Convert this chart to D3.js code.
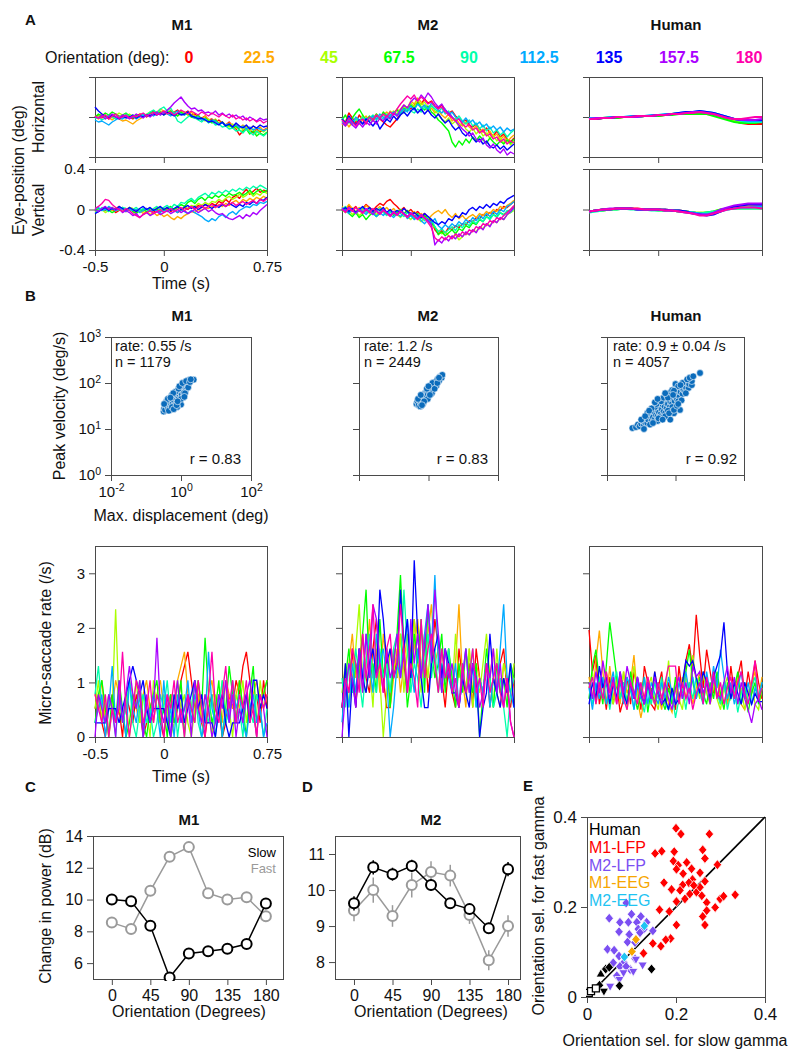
<!DOCTYPE html>
<html><head><meta charset="utf-8">
<script src="https://cdn.jsdelivr.net/npm/d3@7"></script>
<style>body{margin:0;background:#fff}svg{display:block}</style>
</head><body>
<svg id="fig" width="800" height="1064"></svg>
<script>
// ---------------- DATA ----------------
const orientations = [0, 22.5, 45, 67.5, 90, 112.5, 135, 157.5, 180];
const orientationColors = ["#ff0000","#ffaa00","#aaff00","#00ff00","#00ffaa","#00aaff","#0000ff","#aa00ff","#ff00aa"];
const orientationLabels = ["0","22.5","45","67.5","90","112.5","135","157.5","180"];
const subjects = ["M1","M2","Human"];

// time grids (s)
const eyeTimes = d3.range(51).map(i => -0.5 + 0.025 * i);
const humanEyeTimes = d3.range(26).map(i => -0.5 + 0.05 * i);
const rateTimes = eyeTimes;
const timeTicks = [-0.5, 0, 0.75];
const eyeTicks = [-0.4, 0, 0.4];
const rateTicks = [0, 1, 2, 3];

// Eye position traces, units of 0.01 deg, one row per orientation
const m1EyeH = [
[0,2,-1,1,-2,0,3,1,-1,2,0,-2,1,3,2,0,4,2,5,3,6,4,2,5,7,3,4,6,2,3,0,-1,1,-3,-2,-5,-3,-6,-8,-5,-9,-12,-18,-14,-10,-13,-16,-12,-15,-13,-11],
[1,-2,0,2,-1,-3,0,-2,-4,-3,-5,-7,-4,-2,0,2,1,3,5,8,6,4,7,5,3,6,4,2,5,1,0,-2,1,-3,-4,-2,-6,-5,-8,-6,-9,-7,-11,-8,-10,-13,-9,-12,-10,-14,-11],
[-1,1,3,0,2,-1,1,4,2,0,3,1,-1,2,0,3,5,2,4,6,3,5,2,4,1,3,5,2,0,1,-2,-1,-4,-2,-5,-3,-7,-5,-8,-10,-7,-11,-9,-13,-10,-14,-12,-16,-13,-15,-12],
[0,3,1,4,2,5,3,0,2,4,1,-1,2,0,3,1,4,6,3,5,2,4,6,3,1,5,2,4,0,-1,2,-3,-1,-4,-6,-3,-7,-5,-9,-8,-11,-9,-13,-15,-12,-17,-14,-19,-16,-18,-15],
[-2,0,-3,-1,2,0,-2,1,-1,3,0,2,-1,1,3,2,5,7,4,8,10,6,9,3,-4,-6,-3,0,2,-1,-3,-5,-2,-6,-4,-8,-7,-10,-9,-12,-11,-14,-13,-16,-12,-15,-18,-14,-17,-19,-16],
[-3,-5,-4,-6,-8,-5,-3,-1,-2,0,-1,1,-2,0,2,1,3,1,4,2,5,3,1,4,6,3,2,5,1,-1,0,-3,-2,-5,-3,-4,-7,-6,-8,-7,-10,-8,-11,-9,-12,-10,-13,-11,-12,-14,-12],
[10,6,3,1,-1,2,0,-2,1,-1,0,2,-1,1,0,2,1,3,2,4,2,5,3,1,4,2,3,5,1,0,-2,-1,-3,-5,-4,-6,-8,-5,-9,-7,-10,-6,-9,-11,-8,-12,-9,-11,-8,-10,-9],
[0,-1,2,-2,1,3,0,-1,2,1,-2,0,3,1,-1,2,0,3,5,2,4,7,10,14,17,20,15,11,8,9,6,7,4,5,3,6,2,4,1,3,0,2,-1,1,-3,0,-2,-4,-1,-3,-2],
[1,-1,0,2,-2,1,3,-1,0,2,-1,1,0,2,4,1,3,5,2,4,6,3,5,2,4,7,5,3,6,4,2,5,3,1,4,2,0,3,1,-1,2,-2,0,-3,-1,-4,-2,-5,-3,-6,-4]];
const m1EyeV = [
[0,-2,1,-1,2,0,-3,-1,1,-2,0,-1,-3,0,-2,1,-1,-3,0,-2,-1,1,-2,0,-3,-1,2,0,3,1,4,2,5,3,6,4,8,6,10,7,12,14,11,16,20,15,18,21,17,19,18],
[-2,1,-1,2,0,-1,1,3,0,-2,1,-1,-3,-1,-4,-2,-5,-3,-6,-4,-7,-5,-8,-10,-7,-9,-6,-4,-2,-3,0,-1,2,1,3,2,5,3,6,4,7,9,6,10,8,11,9,12,10,13,11],
[1,-1,0,-3,-1,2,0,1,-2,0,2,1,-1,0,-2,1,-1,0,2,-1,1,-2,0,-1,2,0,3,1,4,3,6,4,7,5,8,7,10,8,11,13,10,12,15,12,14,17,13,16,14,18,16],
[-1,1,0,2,-1,-3,-1,0,2,-1,1,-2,-4,-1,0,-2,1,-1,0,2,-1,1,3,0,2,5,3,7,9,6,10,12,9,13,11,14,12,15,13,16,14,15,17,14,16,19,15,18,20,17,19],
[-3,-1,2,0,-2,1,-1,0,2,1,-1,0,2,-1,1,0,-2,1,3,0,2,4,1,5,3,7,6,9,11,8,12,14,16,13,17,15,18,16,19,17,20,18,21,19,22,20,23,21,24,22,20],
[1,2,-1,0,3,1,-1,2,0,-2,1,-1,0,-3,-1,1,-2,0,-1,-3,0,-2,1,-1,-3,0,-2,-4,-1,-3,-5,-7,-10,-12,-9,-11,-7,-5,-8,-4,-2,-5,-1,1,3,2,5,4,7,6,8],
[-4,-2,0,2,-1,1,0,3,1,-1,2,0,-2,1,3,0,2,-1,1,3,0,2,-1,1,3,0,2,4,1,3,0,2,5,3,1,4,2,5,3,6,4,2,5,3,7,5,8,6,10,9,12],
[0,-2,1,3,0,2,-1,1,-3,-1,-3,-6,-4,-8,-5,-3,-6,-4,-2,-5,-3,-1,-4,-2,0,-3,-1,-4,-2,0,-3,-1,1,-2,0,-3,-5,-4,-7,-9,-10,-8,-6,-9,-5,-7,-3,-5,-1,2,5],
[1,3,6,10,9,5,2,0,-2,1,-1,-4,-6,-8,-5,-3,-1,-4,-2,0,-3,-1,1,-2,0,2,-1,1,3,0,2,4,1,3,5,2,4,6,3,5,7,4,6,8,5,7,9,6,10,8,11]];
const m2EyeH = [
[-2,-5,4,-1,-6,2,-3,-7,0,-4,1,-2,-5,-8,-10,-6,-2,3,6,10,8,12,15,13,18,14,16,11,9,12,7,4,6,1,-2,-5,-3,-8,-10,-7,-12,-15,-11,-16,-19,-14,-20,-17,-22,-25,-21],
[-8,-4,-10,-5,-2,-7,-3,1,-4,-1,3,-2,2,5,1,6,3,8,12,9,16,13,19,15,10,6,9,4,7,2,-1,3,-4,-1,-6,-9,-5,-10,-13,-9,-15,-12,-18,-14,-20,-17,-23,-19,-25,-21,-18],
[-5,-9,-3,-7,-1,-5,2,-3,0,-4,2,-1,4,0,6,3,8,5,11,7,14,10,17,12,15,9,12,6,3,-2,-5,-1,-7,-4,-10,-6,-12,-15,-11,-17,-13,-19,-16,-21,-18,-24,-20,-26,-22,-28,-24],
[-3,2,-6,-1,4,8,2,-4,1,-3,3,-2,5,1,-1,4,7,3,9,6,12,8,14,10,7,11,5,2,-3,-6,-10,-14,-25,-30,-24,-28,-22,-26,-20,-24,-19,-23,-26,-21,-25,-28,-24,-27,-23,-26,-22],
[-1,-6,-3,-8,-2,-5,0,-4,-1,2,-3,1,-2,3,0,5,2,7,4,9,6,4,8,5,10,7,11,8,5,9,3,6,0,-3,1,-4,-7,-3,-9,-6,-12,-8,-14,-10,-16,-13,-18,-15,-20,-16,-13],
[-4,-8,-2,-6,0,-3,-7,-1,-4,1,-2,3,0,-3,2,5,1,4,8,5,11,7,13,9,12,8,14,10,7,4,8,2,5,0,-2,-5,-1,-6,-3,-8,-5,-10,-7,-12,-9,-13,-10,-15,-11,-14,-12],
[-2,-6,1,-4,-8,-3,-7,-2,-5,-9,-4,-12,-7,-2,-5,1,-3,2,5,1,6,9,4,8,3,7,2,-1,3,-2,-6,-3,-9,-13,-10,-16,-19,-15,-21,-25,-22,-27,-24,-29,-31,-28,-32,-29,-33,-30,-27],
[-6,-9,-4,-8,-11,-6,-10,-5,-8,-3,-7,-1,-4,1,-2,4,1,7,12,9,15,19,16,22,18,24,20,14,10,13,7,4,0,-4,-8,-12,-15,-19,-16,-22,-25,-21,-28,-31,-27,-33,-36,-32,-38,-35,-37],
[-3,-7,-1,-5,-9,-4,-2,-6,0,-3,2,-1,3,0,5,2,8,13,17,21,18,22,16,20,17,13,15,11,8,10,5,2,-1,-4,-2,-7,-10,-7,-13,-11,-16,-13,-19,-17,-22,-20,-25,-22,-27,-24,-26]];
const m2EyeV = [
[2,-1,4,0,3,-2,1,5,2,-1,3,6,4,8,10,6,3,-1,2,-3,0,-4,-2,-6,-4,-8,-12,-20,-24,-21,-23,-18,-20,-16,-18,-14,-15,-11,-12,-8,-9,-5,-6,-3,-4,0,-1,3,2,5,8],
[3,0,5,1,-2,2,-1,4,1,-3,0,3,-1,2,-2,1,-3,0,-4,-1,-5,-2,-6,-4,-7,-10,-6,-3,-1,-4,0,-5,-8,-4,-9,-6,-10,-7,-5,-8,-4,-6,-2,-4,0,-2,3,1,4,6,9],
[1,-3,-1,-5,-2,-6,-3,0,-4,-1,-5,-2,0,-3,-6,-2,-5,-8,-4,-7,-10,-6,-9,-12,-8,-11,-15,-18,-21,-24,-22,-26,-28,-25,-30,-27,-23,-25,-20,-22,-17,-19,-14,-16,-11,-13,-8,-10,-5,-3,-1],
[-2,1,-4,-7,-3,-8,-5,-10,-6,-3,-7,-4,-1,-5,-2,-6,-3,0,-4,-1,-5,-8,-4,-9,-6,-10,-13,-17,-25,-22,-26,-23,-20,-24,-19,-21,-16,-18,-13,-15,-10,-12,-7,-9,-5,-7,-3,-5,-2,0,3],
[0,3,-2,1,-4,-1,2,-3,0,-5,-2,1,-3,-6,-2,-5,-1,-4,-7,-3,-6,-9,-5,-8,-11,-7,-10,-17,-22,-19,-23,-20,-17,-21,-15,-18,-13,-16,-11,-14,-9,-12,-7,-10,-5,-8,-3,-6,-1,-3,1],
[2,-1,-4,0,-3,1,-2,-5,-1,-4,-7,-3,-6,-2,-5,-8,-4,-7,-3,-9,-6,-10,-7,-11,-14,-10,-13,-9,-16,-19,-15,-18,-14,-17,-12,-15,-10,-13,-8,-11,-6,-9,-4,-7,-2,-5,0,-2,3,5,8],
[-1,2,-2,1,-3,0,3,-1,2,-2,1,-1,2,-3,0,-4,-1,-3,1,-2,-5,-3,-6,-8,-4,-7,-10,-13,-15,-12,-14,-9,-11,-6,-8,-3,-5,0,2,-1,3,1,5,2,6,4,8,6,10,12,14],
[1,-2,2,-1,-4,0,-3,1,-2,-5,-1,-4,0,-3,-6,-2,-5,-1,-4,-7,-3,-6,-9,-5,-8,-11,-15,-35,-30,-33,-28,-31,-26,-29,-24,-27,-22,-25,-20,-23,-17,-20,-14,-17,-11,-13,-8,-10,-5,-2,2],
[0,-3,1,-2,2,-1,-4,0,-3,1,-2,-5,-1,-4,-7,-3,-6,-2,-5,-8,-4,-7,-10,-6,-9,-13,-18,-28,-31,-27,-30,-26,-29,-24,-27,-22,-25,-20,-22,-17,-19,-14,-16,-11,-13,-8,-10,-6,-3,0,4]];
const humanEyeH = [
[-2,-2,-1,-1,-1,0,0,0,1,1,1,2,3,3,4,4,4,4,3,1,-2,-4,-6,-7,-7,-7],
[-2,-1,-1,-1,0,0,0,1,1,1,2,2,3,4,4,5,4,4,3,1,-1,-3,-4,-5,-5,-5],
[-1,-1,-1,0,0,0,0,1,1,1,2,2,3,3,4,4,4,3,2,0,-2,-4,-5,-5,-5,-4],
[-2,-2,-1,-1,-1,0,0,0,1,1,1,2,2,3,3,3,3,3,1,-1,-3,-5,-6,-6,-6,-5],
[-2,-1,-1,-1,0,0,0,0,1,1,2,2,3,4,4,5,5,5,4,2,0,-2,-4,-5,-5,-5],
[-1,-1,-1,0,0,0,1,1,1,2,2,3,3,4,5,5,6,5,4,2,0,-2,-3,-4,-4,-4],
[-2,-2,-1,-1,0,0,0,1,1,1,2,2,3,4,5,5,6,5,4,2,0,-2,-3,-3,-3,-3],
[-2,-1,-1,-1,0,0,0,0,1,1,2,2,3,3,4,5,5,4,3,1,-1,-2,-3,-3,-3,-2],
[-2,-2,-1,-1,0,0,0,1,1,1,2,2,3,3,4,4,5,4,3,1,-1,-2,-2,-1,0,0]];
const humanEyeV = [
[-2,-1,0,0,1,1,1,0,0,0,0,-1,-1,-1,-2,-3,-4,-4,-3,-1,1,2,3,3,3,3],
[-2,-1,-1,0,1,1,1,1,0,0,0,0,-1,-1,-2,-3,-4,-4,-3,-1,1,2,2,3,3,2],
[-2,-1,0,0,1,1,1,0,0,0,0,-1,-1,-2,-2,-3,-3,-3,-2,0,1,2,2,2,2,2],
[-2,-1,-1,0,0,1,1,0,0,0,-1,-1,-1,-2,-2,-3,-4,-3,-2,0,1,1,1,1,1,1],
[-3,-2,-1,0,0,1,0,0,0,-1,-1,-1,-1,-2,-3,-3,-4,-3,-2,-1,0,1,1,1,1,1],
[-2,-1,0,0,1,1,1,0,0,0,0,-1,-1,-1,-2,-3,-4,-5,-4,-2,0,1,2,2,3,3],
[-2,-1,0,0,1,1,1,0,0,0,0,0,-1,-1,-2,-4,-5,-6,-5,-2,1,3,4,5,5,5],
[-2,-1,0,1,1,1,1,0,0,0,0,-1,-1,-2,-3,-4,-5,-5,-3,0,2,4,5,6,6,6],
[-2,-1,0,0,1,1,1,1,0,0,0,-1,-1,-2,-3,-4,-6,-6,-4,-2,0,1,2,2,2,1]];

// Micro-saccade counts per bin (one row per orientation); rate = count * unit (/s)
const m1RateUnit = 0.26;
const m1RateCounts = [
[2,3,1,0,2,3,1,2,0,3,2,1,3,2,0,1,2,3,2,1,0,2,3,1,2,4,5,6,4,2,3,1,0,2,3,1,2,0,1,3,2,4,3,5,6,4,2,3,1,4,2],
[3,2,4,1,3,2,4,3,1,2,4,3,2,1,3,4,2,1,3,4,2,1,3,2,4,5,6,3,2,4,3,1,2,3,4,2,3,1,4,3,2,3,4,2,3,1,3,4,2,3,4],
[2,4,1,3,0,2,9,2,1,3,0,2,4,1,3,2,0,4,2,1,3,2,0,1,4,2,3,1,0,2,4,1,3,2,0,3,2,4,1,2,0,3,2,4,1,3,2,0,4,2,3],
[1,3,4,2,0,3,1,4,2,0,1,3,2,4,1,0,2,3,4,1,2,0,3,1,2,4,0,3,2,1,4,2,7,3,1,2,4,0,2,5,3,1,4,2,0,3,5,1,2,3,4],
[3,5,2,1,3,2,0,3,1,2,4,1,0,2,3,1,2,0,1,3,2,4,1,3,0,2,1,3,2,4,1,0,2,1,3,0,2,4,1,2,3,1,2,0,3,2,1,3,2,0,2],
[1,2,3,0,2,5,1,3,2,0,4,2,1,3,0,2,1,3,2,0,4,1,2,0,3,1,2,4,1,3,2,0,1,6,2,1,3,0,2,1,4,2,3,1,0,2,3,1,2,0,1],
[1,1,1,1,2,2,2,1,2,3,4,5,4,3,4,2,1,2,2,2,2,1,0,3,2,3,1,2,3,4,2,3,1,1,1,0,2,3,1,0,1,1,1,2,3,1,4,4,2,3,2],
[0,3,2,1,3,2,0,4,1,3,5,3,2,4,0,3,1,2,7,2,1,3,0,2,4,1,2,3,0,4,2,1,3,2,0,1,3,2,4,1,3,0,2,1,3,4,2,0,3,2,0],
[3,2,1,3,0,2,1,2,6,2,0,2,4,3,1,2,4,1,3,2,0,3,2,4,1,2,0,3,2,1,4,2,0,3,6,2,1,3,5,2,4,1,3,2,4,1,2,0,3,2,3]];
const m2RateUnit = 0.27;
const m2RateCounts = [
[2,4,3,6,2,5,7,4,3,6,8,5,4,2,2,6,4,7,5,3,6,8,5,4,7,3,5,8,6,4,2,5,3,2,6,4,3,5,2,6,4,3,5,2,4,3,5,6,3,2,4],
[2,3,5,7,4,6,3,5,8,4,6,3,7,5,2,4,6,3,5,7,4,6,8,5,4,7,9,5,6,3,4,6,3,5,9,4,2,6,3,5,4,3,5,4,6,3,2,5,4,3,4],
[3,5,2,4,6,9,4,3,5,2,7,4,0,3,6,5,4,7,3,6,4,8,5,3,6,4,7,5,3,6,4,5,3,7,4,5,3,6,2,4,3,5,7,4,2,6,3,5,4,3,5],
[2,4,6,3,5,4,7,10,4,5,3,8,4,6,2,5,7,11,6,2,4,7,5,8,3,9,6,4,5,7,3,6,4,2,5,3,6,4,3,5,0,3,6,4,2,5,3,4,2,5,4],
[4,2,5,3,6,4,2,5,7,4,3,6,4,5,3,6,7,4,10,6,3,5,4,2,5,7,4,6,3,5,4,6,3,4,2,5,3,4,6,2,4,3,5,4,2,3,4,2,0,3,4],
[1,4,2,5,3,6,4,7,5,3,7,5,6,4,0,2,5,4,6,8,5,3,6,4,7,9,6,11,5,3,6,4,3,5,2,4,6,3,5,2,4,3,5,2,4,3,6,9,4,3,2],
[2,5,0,4,2,6,4,3,5,6,4,10,8,5,6,4,5,10,6,8,4,12,7,4,2,2,5,6,7,4,6,5,3,3,2,4,3,2,5,4,0,2,3,7,4,3,2,4,3,5,2],
[0,3,5,4,2,6,3,7,4,9,8,5,3,6,4,5,7,4,6,3,8,5,7,4,6,9,5,10,7,3,6,4,5,3,2,4,6,3,5,4,2,3,5,4,6,3,5,2,4,1,0],
[2,4,3,6,5,3,7,4,6,9,4,5,3,6,7,4,5,9,6,3,5,4,2,8,4,6,7,5,3,6,4,5,3,4,2,5,3,4,6,3,4,2,5,3,4,5,3,2,4,1,0]];
const humanRates = [
[1.96,1.2,1.5,0.6,1.0,0.5,1.1,0.6,1.0,0.45,0.7,1.1,0.6,1.2,0.9,0.5,1.3,1.0,0.6,0.5,0.9,1.2,0.6,1.0,0.7,0.5,1.3,0.8,1.4,1.7,1.2,2.24,1.5,0.9,1.6,1.2,0.8,1.1,0.6,1.0,0.6,1.3,0.8,1.1,1.4,0.7,1.2,0.8,1.4,1.0,0.7],
[1.1,0.7,1.4,1.95,1.2,0.6,1.3,0.7,1.1,0.6,1.2,0.8,1.0,1.5,0.7,0.35,0.7,1.1,0.6,1.2,0.8,0.5,1.0,0.6,0.45,0.9,0.6,1.1,0.7,1.0,0.6,0.9,1.2,0.7,1.0,0.6,0.9,1.1,0.7,1.0,0.6,0.9,0.7,1.1,0.6,0.5,0.8,1.0,1.2,0.7,1.1],
[0.9,1.2,0.6,1.1,0.7,1.2,0.9,0.6,1.0,0.7,1.2,0.5,0.9,1.3,0.7,1.0,0.6,0.9,1.1,0.7,0.5,1.0,0.8,1.4,0.6,1.0,0.7,0.5,1.1,0.8,1.5,1.0,0.7,1.2,0.8,0.6,1.0,0.7,0.5,0.9,1.1,0.7,1.0,0.6,0.9,0.5,0.8,1.0,0.6,0.5,0.9],
[0.7,1.3,1.6,1.0,0.6,1.3,2.1,1.6,1.1,0.7,1.0,0.6,1.2,0.8,0.5,0.8,1.1,0.45,0.9,0.6,1.0,0.7,0.5,0.9,0.6,1.1,0.7,1.0,1.2,1.6,1.0,0.7,1.1,0.8,0.6,1.0,0.7,1.2,0.8,0.5,1.0,0.7,0.9,1.2,0.6,0.9,0.45,0.8,1.0,0.6,0.9],
[1.0,0.6,0.9,1.1,0.7,1.0,0.5,0.9,1.2,0.7,1.0,0.6,0.9,0.5,1.0,0.7,0.45,0.9,0.6,1.0,0.7,1.1,0.6,0.5,0.8,0.35,0.7,0.9,0.5,1.0,0.7,1.1,0.8,0.6,1.0,0.7,1.2,0.8,0.6,1.0,0.5,0.8,0.9,0.45,0.8,1.0,0.6,0.9,1.1,0.7,1.0],
[0.9,0.5,1.0,0.7,1.1,0.6,0.9,1.2,0.7,1.0,0.6,1.1,0.9,0.5,1.0,0.7,1.1,0.6,1.0,0.8,0.6,1.0,0.7,1.1,0.8,0.6,1.0,0.7,1.2,0.8,1.1,0.7,1.0,0.6,1.2,0.8,1.3,0.9,1.6,1.1,0.7,1.0,0.6,0.9,1.2,0.7,1.0,0.6,0.9,0.7,1.0],
[0.6,1.0,0.7,1.3,0.9,1.1,0.6,1.0,0.7,1.2,0.8,0.6,1.0,0.7,1.1,0.8,0.6,1.0,0.7,1.2,0.8,0.6,0.7,0.5,0.9,0.6,0.7,1.0,1.4,1.3,1.4,1.1,0.8,1.2,1.0,0.7,1.1,1.3,1.5,2.1,1.2,0.7,1.0,0.8,0.6,1.0,0.8,0.6,0.8,0.65,0.65],
[1.0,0.7,1.2,0.8,1.4,1.0,0.7,1.1,0.6,1.2,0.8,1.3,1.0,0.7,1.1,0.8,0.6,1.0,0.7,1.1,0.8,0.6,1.0,0.7,0.5,0.9,1.1,0.7,1.0,0.6,1.3,1.1,1.2,0.8,1.0,0.6,1.1,0.8,0.7,1.0,1.3,0.8,1.1,0.6,1.0,0.7,0.5,0.26,0.6,0.7,0.5],
[0.9,1.1,0.6,1.0,0.7,1.2,0.8,1.0,0.6,1.1,0.7,0.5,1.0,0.8,0.6,1.0,0.7,1.1,0.8,0.6,1.0,0.7,1.0,1.3,1.3,1.3,0.6,1.0,0.7,0.9,0.5,0.8,1.0,0.6,1.1,0.8,1.2,0.7,1.0,0.6,0.9,1.1,0.7,1.0,1.2,0.8,0.6,1.0,1.4,0.7,0.9]];

// Main sequence: [max displacement (deg), peak velocity (deg/s)]
const m1Saccades = [[0.32,24],[0.33,28],[0.36,31],[0.35,26],[0.40,33],[0.42,29],[0.45,36],[0.48,40],[0.50,33],[0.47,28],[0.55,44],[0.58,38],[0.60,50],[0.63,42],[0.66,55],[0.70,47],[0.72,36],[0.75,60],[0.80,52],[0.82,66],[0.85,45],[0.88,58],[0.92,70],[0.95,62],[1.0,75],[1.05,55],[1.1,82],[1.15,70],[1.2,90],[1.25,78],[1.3,95],[1.4,85],[1.45,105],[1.5,92],[1.6,115],[1.7,100],[1.35,68],[1.2,62],[0.9,40],[0.65,32],[0.52,28],[2.3,118],[1.0,34],[0.78,30],[1.15,48],[0.38,40],[0.42,45],[0.45,25],[0.55,30],[0.55,55],[0.62,27],[0.7,65],[0.75,33],[0.85,75],[0.9,85],[1.0,45],[1.1,100],[1.3,60],[1.4,110],[1.6,80],[0.6,60],[0.5,48],[0.33,35],[0.8,40],[1.25,50],[1.8,105],[1.9,120]];
const m2Saccades = [[0.45,35],[0.48,40],[0.52,33],[0.55,44],[0.6,38],[0.62,48],[0.68,42],[0.72,55],[0.78,47],[0.8,60],[0.85,52],[0.9,66],[0.95,58],[1.0,72],[1.05,63],[1.1,80],[1.15,70],[1.2,88],[1.3,78],[1.35,95],[1.45,85],[1.5,105],[1.6,98],[1.8,120],[2.2,140],[2.4,130],[2.0,110],[0.7,36],[0.58,31],[1.25,60],[0.95,45],[1.7,88],[2.5,150],[0.5,45],[0.6,55],[0.75,40],[0.9,75],[1.1,55],[1.3,100],[1.5,75],[0.65,33],[1.0,85],[1.8,100],[2.0,130]];
const humanSaccades = [[0.055,10.5],[0.07,11],[0.08,12.5],[0.09,11.5],[0.1,13],[0.11,15],[0.12,12],[0.13,14],[0.14,17],[0.15,13.5],[0.16,16],[0.18,19],[0.2,15],[0.2,21],[0.22,18],[0.24,24],[0.25,16.5],[0.27,20],[0.3,26],[0.3,19],[0.33,23],[0.35,30],[0.37,21],[0.4,27],[0.42,34],[0.45,24],[0.48,31],[0.5,38],[0.55,28],[0.55,42],[0.6,35],[0.65,46],[0.68,30],[0.7,40],[0.75,52],[0.8,36],[0.85,45],[0.9,58],[0.95,40],[1.0,50],[1.05,65],[1.1,45],[1.2,58],[1.25,72],[1.3,50],[1.4,64],[1.5,80],[1.6,58],[1.7,72],[1.8,90],[1.9,66],[2.0,82],[2.2,100],[2.4,78],[2.5,95],[2.7,115],[3.0,90],[3.0,110],[1.35,26],[0.7,16],[0.9,22],[0.15,22],[0.25,30],[0.4,45],[0.6,55],[1.0,80],[5.2,165],[0.12,10],[0.18,12.5],[0.3,15],[0.5,22],[0.8,30],[1.2,40],[0.35,18],[0.6,25],[0.1,16],[0.13,19],[0.2,28],[0.22,13.5],[0.28,35],[0.32,17],[0.38,40],[0.45,48],[0.5,19],[0.55,55],[0.65,22],[0.7,62],[0.8,70],[0.9,26],[1.0,95],[1.1,32],[1.2,85],[1.5,42],[1.6,100],[2.0,60],[2.2,120],[0.42,16],[0.6,48],[0.9,68],[1.4,90],[0.25,38],[0.17,25],[0.85,55],[1.2,35],[2.6,130],[3.3,140],[0.3,45],[0.5,60]];
const saccadeStats = [
  {rate:"rate: 0.55 /s", n:"n = 1179", r:"r = 0.83"},
  {rate:"rate: 1.2 /s", n:"n = 2449", r:"r = 0.83"},
  {rate:"rate: 0.9 \u00b1 0.04 /s", n:"n = 4057", r:"r = 0.92"}];
const logXTicks = [0.01, 1, 100];
const logYTicks = [1, 10, 100, 1000];

// Panel C & D: change in power (dB)
const powerOrientations = [0, 22.5, 45, 67.5, 90, 112.5, 135, 157.5, 180];
const orientationTicks = [0, 45, 90, 135, 180];
const m1Slow = [10.0, 9.9, 8.35, 5.1, 6.6, 6.75, 6.9, 7.2, 9.75];
const m1Fast = [8.55, 8.15, 10.55, 12.7, 13.3, 10.4, 10.0, 10.15, 8.95];
const m1PowerTicks = [6, 8, 10, 12, 14];
const m2Slow = [9.63, 10.63, 10.44, 10.67, 10.14, 9.63, 9.47, 8.94, 10.58];
const m2SlowErr = [0.2, 0.2, 0.18, 0.17, 0.15, 0.15, 0.15, 0.15, 0.2];
const m2Fast = [9.43, 10.0, 9.28, 10.14, 10.5, 10.4, 9.31, 8.05, 9.0];
const m2FastErr = [0.3, 0.35, 0.3, 0.35, 0.3, 0.3, 0.25, 0.28, 0.3];
const m2PowerTicks = [8, 9, 10, 11];

// Panel E: orientation selectivity [slow gamma, fast gamma]
const m1Lfp = [[0.200,0.375],[0.211,0.362],[0.275,0.362],[0.153,0.319],[0.168,0.324],[0.196,0.323],[0.260,0.327],[0.265,0.308],[0.194,0.302],[0.205,0.293],[0.224,0.299],[0.235,0.285],[0.293,0.294],[0.201,0.284],[0.216,0.274],[0.254,0.276],[0.237,0.261],[0.229,0.254],[0.215,0.249],[0.265,0.257],[0.173,0.254],[0.190,0.239],[0.209,0.237],[0.231,0.229],[0.246,0.233],[0.254,0.244],[0.240,0.248],[0.258,0.225],[0.269,0.210],[0.299,0.218],[0.333,0.227],[0.307,0.224],[0.288,0.199],[0.269,0.192],[0.260,0.179],[0.265,0.160],[0.201,0.212],[0.185,0.190],[0.163,0.194],[0.201,0.160],[0.188,0.130],[0.177,0.127],[0.166,0.113],[0.148,0.119],[0.127,0.097],[0.220,0.218]];
const m2LfpDiamonds = [[0.088,0.209],[0.050,0.175],[0.100,0.184],[0.121,0.179],[0.074,0.166],[0.093,0.166],[0.112,0.166],[0.134,0.166],[0.072,0.145],[0.095,0.139],[0.115,0.151],[0.128,0.151],[0.148,0.147],[0.119,0.143],[0.091,0.122],[0.108,0.121],[0.046,0.106],[0.061,0.104],[0.072,0.091],[0.083,0.077],[0.108,0.085],[0.059,0.076],[0.074,0.068],[0.097,0.061],[0.067,0.047],[0.088,0.068]];
const m2LfpTriangles = [[0.104,0.056],[0.125,0.070],[0.052,0.023],[0.073,0.038],[0.082,0.053],[0.110,0.083]];
const m1Eeg = [[0.110,0.128],[0.101,0.101]];
const m2Eeg = [[0.129,0.158],[0.084,0.089]];
const humanDiamonds = [[0.042,0.062],[0.050,0.066],[0.073,0.025],[0.145,0.062],[0.028,0.026]];
const humanTrianglesUp = [[0.031,0.052]];
const humanTrianglesDown = [[0.038,0.012]];
const humanSquares = [[0.004,0.009],[0.009,0.013],[0.020,0.019]];
const selTicks = [0, 0.2, 0.4];
const selLegend = [["Human","#000000"],["M1-LFP","#ff0000"],["M2-LFP","#7b4ff2"],["M1-EEG","#f7a600"],["M2-EEG","#1fc3f2"]];

// ---------------- DRAWING ----------------
const FONT = '"Liberation Sans", Arial, Helvetica, sans-serif';
const AXC = "#4a4a4a";
const TXT = "#111";
const svg = d3.select("#fig").attr("font-family", FONT);

function label(x, y, str, o = {}) {
  const t = svg.append("text").attr("x", x).attr("y", y).text(str)
    .attr("font-size", o.size || 16).attr("fill", o.fill || TXT)
    .attr("font-weight", o.bold ? "bold" : "normal")
    .attr("text-anchor", o.anchor || "start");
  if (o.rotate) t.attr("transform", `rotate(-90,${x},${y})`);
  return t;
}

let clipN = 0;
function makeAxes(x, y, w, h) {
  const g = svg.append("g").attr("transform", `translate(${x},${y})`);
  const id = "clip" + (clipN++);
  g.append("clipPath").attr("id", id).append("rect").attr("x", -1).attr("y", -1).attr("width", w + 3).attr("height", h + 3);
  g.append("rect").attr("x", 0.5).attr("y", 0.5).attr("width", w).attr("height", h)
    .attr("fill", "none").attr("stroke", AXC).attr("stroke-width", 1);
  const plot = g.append("g").attr("clip-path", `url(#${id})`);
  return { g, plot, w, h };
}

function addAxis(ax, side, scale, ticks, showLabels, fs, fmt) {
  const a = (side === "bottom" ? d3.axisBottom(scale) : d3.axisLeft(scale))
    .tickValues(ticks).tickSizeInner(6).tickSizeOuter(0)
    .tickPadding(side === "bottom" ? 5 : 4)
    .tickFormat(showLabels ? (fmt || (d => String(d))) : () => "");
  const gg = ax.g.append("g");
  if (side === "bottom") gg.attr("transform", `translate(0,${ax.h})`);
  gg.call(a);
  gg.select(".domain").remove();
  gg.attr("font-family", FONT).attr("font-size", fs || 15);
  gg.selectAll(".tick line").attr("stroke", AXC);
  gg.selectAll(".tick text").attr("fill", TXT);
  return gg;
}

function powerLabels(gg) {
  gg.selectAll(".tick text").each(function (d) {
    const t = d3.select(this);
    t.text("10");
    t.append("tspan").attr("dy", "-0.55em").attr("font-size", "0.7em").text(Math.round(Math.log10(d)));
  });
}

// ---- Panel A ----
label(25, 25, "A", { bold: true, size: 15 });
const colA = [{ x: 95, w: 172 }, { x: 342, w: 172 }, { x: 589, w: 173 }];
const titleX = [182, 428, 676];
subjects.forEach((s, i) => label(titleX[i], 30, s, { bold: true, anchor: "middle", size: 15 }));
label(45, 63, "Orientation (deg):", { size: 16 });
orientationLabels.forEach((s, i) => label(189 + i * 70, 63, s, { size: 16, bold: true, anchor: "middle", fill: orientationColors[i] }));

const eyeSets = [
  { H: m1EyeH, V: m1EyeV, t: eyeTimes, sw: 1.4 },
  { H: m2EyeH, V: m2EyeV, t: eyeTimes, sw: 1.4 },
  { H: humanEyeH, V: humanEyeV, t: humanEyeTimes, sw: 1.9 }];
const eyeRows = [{ key: "H", y: 77, h: 80 }, { key: "V", y: 169, h: 81 }];

eyeSets.forEach((set, ci) => {
  eyeRows.forEach((row, ri) => {
    const ax = makeAxes(colA[ci].x, row.y, colA[ci].w, row.h);
    const xs = d3.scaleLinear([-0.5, 0.75], [0, ax.w]);
    const ys = d3.scaleLinear([-0.4, 0.4], [ax.h, 0]);
    const line = d3.line().x((d, i) => xs(set.t[i])).y(d => ys(d / 100)).defined((d, i) => i < set.t.length);
    set[row.key].forEach((tr, k) => {
      ax.plot.append("path").attr("d", line(tr)).attr("fill", "none")
        .attr("stroke", orientationColors[k]).attr("stroke-width", set.sw).attr("stroke-linejoin", "round");
    });
    const lab = ci === 0 && ri === 1;
    addAxis(ax, "bottom", xs, timeTicks, lab);
    addAxis(ax, "left", ys, eyeTicks, lab);
  });
});
label(44, 117, "Horizontal", { rotate: true, anchor: "middle" });
label(44, 210, "Vertical", { rotate: true, anchor: "middle" });
label(24, 170, "Eye-position (deg)", { rotate: true, anchor: "middle" });
label(181, 289, "Time (s)", { anchor: "middle" });

// ---- Panel B: main sequence ----
label(25, 301, "B", { bold: true, size: 15 });
subjects.forEach((s, i) => label(titleX[i], 321, s, { bold: true, anchor: "middle", size: 15 }));
const colB = [{ x: 111, w: 140, pad: 4, rpad: 10 }, { x: 359, w: 139, pad: 5, rpad: 10 }, { x: 607, w: 137, pad: 6, rpad: 7 }];
const saccadeSets = [m1Saccades, m2Saccades, humanSaccades];
colB.forEach((c, ci) => {
  const ax = makeAxes(c.x, 337, c.w, 138);
  const xs = d3.scaleLog([0.01, 100], [0, ax.w]);
  const ys = d3.scaleLog([1, 1000], [ax.h, 0]);
  ax.plot.selectAll("circle").data(saccadeSets[ci]).join("circle")
    .attr("cx", d => xs(d[0])).attr("cy", d => ys(d[1])).attr("r", 3.4)
    .attr("fill", "#0b6cbc").attr("stroke", "#ffffff").attr("stroke-width", 0.6);
  const bx = addAxis(ax, "bottom", xs, logXTicks, ci === 0);
  const by = addAxis(ax, "left", ys, logYTicks, ci === 0);
  if (ci === 0) { powerLabels(bx); powerLabels(by); }
  const st = saccadeStats[ci];
  ax.g.append("text").attr("x", c.pad).attr("y", 14).text(st.rate).attr("font-size", 14.5).attr("fill", TXT);
  ax.g.append("text").attr("x", c.pad).attr("y", 30).text(st.n).attr("font-size", 14.5).attr("fill", TXT);
  ax.g.append("text").attr("x", c.w - c.rpad).attr("y", 127).text(st.r).attr("font-size", 15).attr("fill", TXT).attr("text-anchor", "end");
});
label(65, 406, "Peak velocity (deg/s)", { rotate: true, anchor: "middle" });
label(181, 521, "Max. displacement (deg)", { anchor: "middle" });

// ---- Panel B: micro-saccade rate ----
const rateSets = [
  m1RateCounts.map(r => r.map(c => c * m1RateUnit)),
  m2RateCounts.map(r => r.map(c => c * m2RateUnit)),
  humanRates];
colA.forEach((c, ci) => {
  const ax = makeAxes(c.x, 546, c.w, 191);
  const xs = d3.scaleLinear([-0.5, 0.75], [0, ax.w]);
  const ys = d3.scaleLinear([0, 3.5], [ax.h, 0]);
  const line = d3.line().x((d, i) => xs(rateTimes[i])).y(d => ys(d)).defined((d, i) => i < rateTimes.length);
  rateSets[ci].forEach((tr, k) => {
    ax.plot.append("path").attr("d", line(tr)).attr("fill", "none")
      .attr("stroke", orientationColors[k]).attr("stroke-width", 1.3).attr("stroke-linejoin", "miter");
  });
  addAxis(ax, "bottom", xs, timeTicks, ci === 0);
  addAxis(ax, "left", ys, rateTicks, ci === 0);
});
label(51, 643, "Micro-saccade rate (/s)", { rotate: true, anchor: "middle" });
label(181, 782, "Time (s)", { anchor: "middle" });

// ---- Panels C & D ----
function powerPanel(x, w, xDom, yDom, yTicks, slow, fast, slowErr, fastErr) {
  const ax = makeAxes(x, 836, w, 143);
  const xs = d3.scaleLinear(xDom, [0, ax.w]);
  const ys = d3.scaleLinear(yDom, [ax.h, 0]);
  const line = d3.line().x((d, i) => xs(powerOrientations[i])).y(d => ys(d));
  [[fast, fastErr, "#9a9a9a"], [slow, slowErr, "#000000"]].forEach(([vals, err, col]) => {
    if (err) {
      ax.plot.selectAll(null).data(vals).join("line")
        .attr("x1", (d, i) => xs(powerOrientations[i])).attr("x2", (d, i) => xs(powerOrientations[i]))
        .attr("y1", (d, i) => ys(d - err[i])).attr("y2", (d, i) => ys(d + err[i]))
        .attr("stroke", col).attr("stroke-width", 1.5);
    }
    ax.plot.append("path").attr("d", line(vals)).attr("fill", "none").attr("stroke", col).attr("stroke-width", 1.5);
    ax.plot.selectAll(null).data(vals).join("circle")
      .attr("cx", (d, i) => xs(powerOrientations[i])).attr("cy", d => ys(d)).attr("r", 5)
      .attr("fill", "#ffffff").attr("stroke", col).attr("stroke-width", 2);
  });
  addAxis(ax, "bottom", xs, orientationTicks, true, 16);
  addAxis(ax, "left", ys, yTicks, true, 16);
  return ax;
}
label(25, 792, "C", { bold: true, size: 15 });
label(189, 825, "M1", { bold: true, anchor: "middle", size: 15 });
const axC = powerPanel(93, 190, [-22, 200], [5, 14], m1PowerTicks, m1Slow, m1Fast, null, null);
axC.g.append("text").attr("x", 183).attr("y", 21).attr("text-anchor", "end").attr("font-size", 13).attr("fill", "#000").text("Slow");
axC.g.append("text").attr("x", 183).attr("y", 37).attr("text-anchor", "end").attr("font-size", 13).attr("fill", "#9a9a9a").text("Fast");
label(51, 906, "Change in power (dB)", { rotate: true, anchor: "middle" });
label(189, 1017, "Orientation (Degrees)", { anchor: "middle" });

label(302, 792, "D", { bold: true, size: 15 });
label(431, 825, "M2", { bold: true, anchor: "middle", size: 15 });
powerPanel(335, 185, [-22.2, 194], [7.53, 11.5], m2PowerTicks, m2Slow, m2Fast, m2SlowErr, m2FastErr);
label(431, 1017, "Orientation (Degrees)", { anchor: "middle" });

// ---- Panel E ----
label(523, 791, "E", { bold: true, size: 15 });
const axE = makeAxes(587, 817, 178, 180);
const ex = d3.scaleLinear([0, 0.4], [0, axE.w]);
const ey = d3.scaleLinear([0, 0.4], [axE.h, 0]);
selLegend.forEach(([s, col], i) => axE.g.append("text").attr("x", 2).attr("y", 18 + i * 17.8)
  .attr("font-size", 16).attr("fill", col).text(s));
axE.plot.append("line").attr("x1", ex(0)).attr("y1", ey(0)).attr("x2", ex(0.4)).attr("y2", ey(0.4))
  .attr("stroke", "#000").attr("stroke-width", 1.6);
const shapes = {
  diamond: "M0,-5L4.2,0L0,5L-4.2,0Z",
  triDown: "M-4.6,-3.4L4.6,-3.4L0,4.6Z",
  triUp: "M-4.6,3.4L4.6,3.4L0,-4.6Z",
  square: "M-3.5,-3.5h7v7h-7Z"
};
function markers(data, shape, col, open) {
  axE.plot.selectAll(null).data(data).join("path")
    .attr("transform", d => `translate(${ex(d[0])},${ey(d[1])})`).attr("d", shapes[shape])
    .attr("fill", open ? "#ffffff" : col).attr("stroke", open ? col : "#ffffff").attr("stroke-width", open ? 1.3 : 0.8);
}
markers(m1Lfp, "diamond", "#ff0000");
markers(m2LfpDiamonds, "diamond", "#7b4ff2");
markers(m2LfpTriangles, "triDown", "#7b4ff2");
markers(m1Eeg, "diamond", "#f7a600");
markers(m2Eeg, "diamond", "#1fc3f2");
markers(humanDiamonds, "diamond", "#000000");
markers(humanTrianglesUp, "triUp", "#000000");
markers(humanTrianglesDown, "triDown", "#000000");
markers(humanSquares, "square", "#000000", true);
const fmtSel = d => (d === 0 ? "0" : String(d));
addAxis(axE, "bottom", ex, selTicks, true, 17, fmtSel);
addAxis(axE, "left", ey, selTicks, true, 17, fmtSel);
label(675, 1046, "Orientation sel. for slow gamma", { anchor: "middle", size: 16 });
label(544, 906, "Orientation sel. for fast gamma", { anchor: "middle", size: 16, rotate: true });
</script>
</body></html>
